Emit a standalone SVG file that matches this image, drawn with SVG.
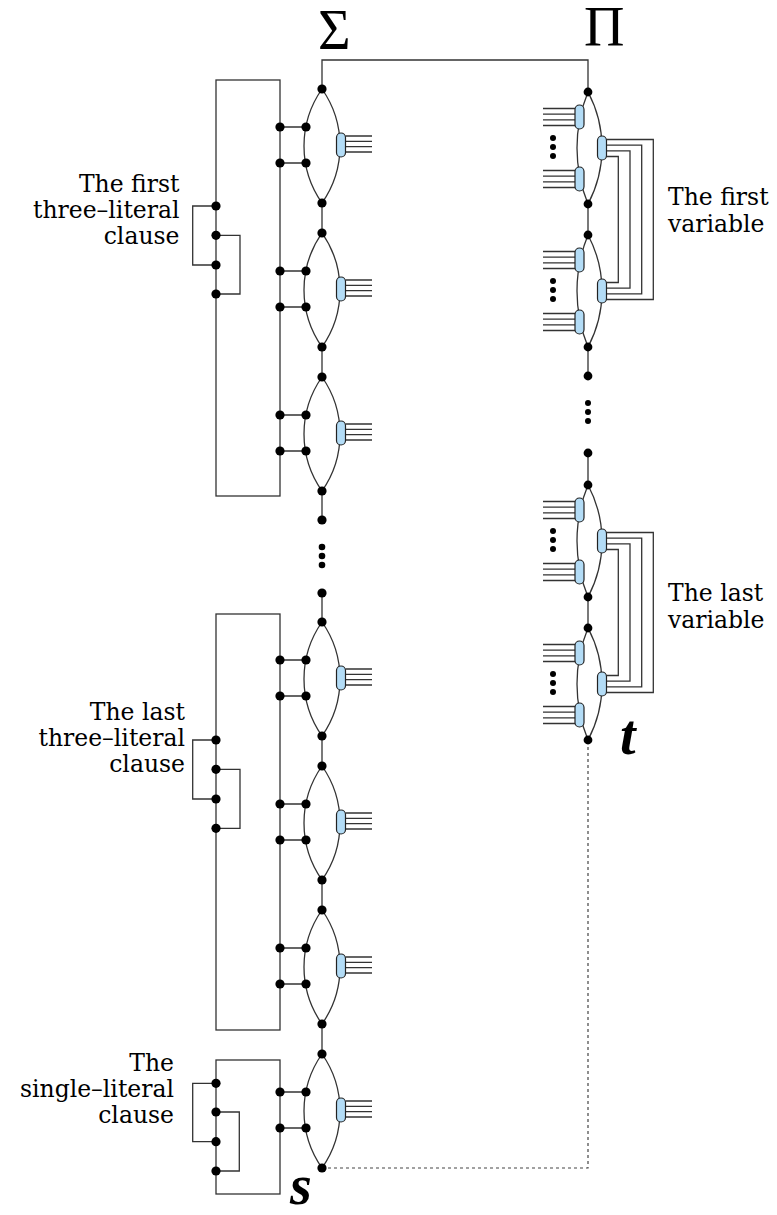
<svg xmlns="http://www.w3.org/2000/svg" xmlns:xlink="http://www.w3.org/1999/xlink" width="777" height="1215" viewBox="0 0 777 1215">
<style>
.ln{fill:none;stroke:#333;stroke-width:1.3}
.dash{fill:none;stroke:#444;stroke-width:1.2;stroke-dasharray:3 3}
.pill{fill:#b3dcf6;stroke:#222;stroke-width:1.2}
.nd{fill:#000}
text{fill:#000}
.lbl{font-family:'DejaVu Serif','Liberation Serif',serif;font-size:23.5px}
.big{font-family:'Liberation Serif','DejaVu Serif',serif;font-size:56px}
.st{font-family:'Liberation Serif','DejaVu Serif',serif;font-size:56px;font-weight:bold;font-style:italic}
</style>
<defs>
<g id="sigmaLens">
<path class="ln" d="M322,0 A99.25,99.25 0 0 0 322,114 M322,0 A99.25,99.25 0 0 1 322,114"/>
<path class="ln" d="M280,38H306 M280,74H306 M345.5,47H372 M345.5,52.3H372 M345.5,57.7H372 M345.5,63H372"/>
<rect class="pill" x="336.5" y="44" width="9" height="24" rx="4.5"/>
<circle class="nd" cx="322" cy="0" r="4.6"/>
<circle class="nd" cx="322" cy="114" r="4.6"/>
<circle class="nd" cx="280" cy="38" r="4.6"/>
<circle class="nd" cx="306" cy="38" r="4.6"/>
<circle class="nd" cx="280" cy="74" r="4.6"/>
<circle class="nd" cx="306" cy="74" r="4.6"/>
</g>
<g id="piLens">
<path class="ln" d="M588,0 A148,148 0 0 0 588,112 M588,0 A119,119 0 0 1 588,112"/>
<path class="ln" d="M543,16.5H575 M543,22.2H575 M543,27.8H575 M543,33.5H575 M543,78.5H575 M543,84.2H575 M543,89.8H575 M543,95.5H575"/>
<rect class="pill" x="575" y="13" width="9" height="24" rx="4.5"/>
<rect class="pill" x="575" y="75" width="9" height="24" rx="4.5"/>
<rect class="pill" x="597.5" y="44" width="9" height="24" rx="4.5"/>
<circle class="nd" cx="553" cy="46" r="3"/>
<circle class="nd" cx="553" cy="55" r="3"/>
<circle class="nd" cx="553" cy="64" r="3"/>
<circle class="nd" cx="588" cy="0" r="4.4"/>
<circle class="nd" cx="588" cy="112" r="4.4"/>
</g>
</defs>
<rect width="777" height="1215" fill="#fff"/>
<g id="connectors">
<path class="ln" d="M322,89 V60 H588 V92"/>
<path class="ln" d="M322,203V233 M322,347V377 M322,491V520 M322,593V622 M322,736V766 M322,880V910 M322,1024V1054"/>
<path class="ln" d="M588,204V235 M588,347V376 M588,453V485 M588,597V628"/>
<path class="dash" d="M322,1168 H588 V740"/>
<path class="ln" d="M606.5,139.5H653.3V299.5H606.5 M606.5,145.2H641.7V293.8H606.5 M606.5,150.8H630V288.2H606.5 M606.5,156.5H618.3V282.5H606.5"/>
<path class="ln" d="M606.5,532.5H653.3V692.5H606.5 M606.5,538.2H641.7V686.8H606.5 M606.5,543.8H630V681.2H606.5 M606.5,549.5H618.3V675.5H606.5"/>
</g>
<g id="clause-1">
<rect class="ln" x="216" y="80" width="64" height="416"/>
<path class="ln" d="M216,206H192.7V265H216 M216,235.3H240V294H216"/>
<circle class="nd" cx="216" cy="206" r="4.6"/>
<circle class="nd" cx="216" cy="235.3" r="4.6"/>
<circle class="nd" cx="216" cy="265" r="4.6"/>
<circle class="nd" cx="216" cy="294" r="4.6"/>
<text class="lbl" text-anchor="end" x="179.5" y="192">The first</text>
<text class="lbl" text-anchor="end" x="179.5" y="218">three–literal</text>
<text class="lbl" text-anchor="end" x="179.5" y="243.5">clause</text>
</g>
<g id="clause-2">
<rect class="ln" x="216" y="614" width="64" height="416"/>
<path class="ln" d="M216,740H192.7V799H216 M216,769.3H240V828.3H216"/>
<circle class="nd" cx="216" cy="740" r="4.6"/>
<circle class="nd" cx="216" cy="769.3" r="4.6"/>
<circle class="nd" cx="216" cy="799" r="4.6"/>
<circle class="nd" cx="216" cy="828.3" r="4.6"/>
<text class="lbl" text-anchor="end" x="185" y="719.5">The last</text>
<text class="lbl" text-anchor="end" x="185" y="745.5">three–literal</text>
<text class="lbl" text-anchor="end" x="185" y="771.5">clause</text>
</g>
<g id="clause-3">
<rect class="ln" x="216" y="1060" width="64" height="134"/>
<path class="ln" d="M216,1083.3H192.7V1141.7H216 M216,1112H239.3V1171H216"/>
<circle class="nd" cx="216" cy="1083.3" r="4.6"/>
<circle class="nd" cx="216" cy="1112" r="4.6"/>
<circle class="nd" cx="216" cy="1141.7" r="4.6"/>
<circle class="nd" cx="216" cy="1171" r="4.6"/>
<text class="lbl" text-anchor="end" x="174" y="1070.5">The</text>
<text class="lbl" text-anchor="end" x="174" y="1097">single–literal</text>
<text class="lbl" text-anchor="end" x="174" y="1123">clause</text>
</g>
<g id="sigma-lens-1"><use xlink:href="#sigmaLens" href="#sigmaLens" y="89"/></g>
<g id="sigma-lens-2"><use xlink:href="#sigmaLens" href="#sigmaLens" y="233"/></g>
<g id="sigma-lens-3"><use xlink:href="#sigmaLens" href="#sigmaLens" y="377"/></g>
<g id="sigma-lens-4"><use xlink:href="#sigmaLens" href="#sigmaLens" y="622"/></g>
<g id="sigma-lens-5"><use xlink:href="#sigmaLens" href="#sigmaLens" y="766"/></g>
<g id="sigma-lens-6"><use xlink:href="#sigmaLens" href="#sigmaLens" y="910"/></g>
<g id="sigma-lens-7"><use xlink:href="#sigmaLens" href="#sigmaLens" y="1054"/></g>
<g id="sigma-gap">
<circle class="nd" cx="322" cy="520" r="4.6"/>
<circle class="nd" cx="322" cy="547" r="3.3"/>
<circle class="nd" cx="322" cy="556" r="3.3"/>
<circle class="nd" cx="322" cy="565" r="3.3"/>
<circle class="nd" cx="322" cy="593" r="4.6"/>
</g>
<g id="pi-lens-1"><use xlink:href="#piLens" href="#piLens" y="92"/></g>
<g id="pi-lens-2"><use xlink:href="#piLens" href="#piLens" y="235"/></g>
<g id="pi-lens-3"><use xlink:href="#piLens" href="#piLens" y="485"/></g>
<g id="pi-lens-4"><use xlink:href="#piLens" href="#piLens" y="628"/></g>
<g id="pi-gap">
<circle class="nd" cx="588" cy="376" r="4.4"/>
<circle class="nd" cx="588" cy="403" r="3"/>
<circle class="nd" cx="588" cy="412" r="3"/>
<circle class="nd" cx="588" cy="421" r="3"/>
<circle class="nd" cx="588" cy="453" r="4.4"/>
</g>
<g id="labels">
<text class="big" x="318" y="49">Σ</text>
<text class="big" x="584" y="46">Π</text>
<text class="lbl" x="668" y="205">The first</text>
<text class="lbl" x="668" y="232">variable</text>
<text class="lbl" x="668" y="601">The last</text>
<text class="lbl" x="668" y="628">variable</text>
<text class="st" x="620" y="754">t</text>
<text class="st" x="290" y="1204">s</text>
</g>
</svg>
